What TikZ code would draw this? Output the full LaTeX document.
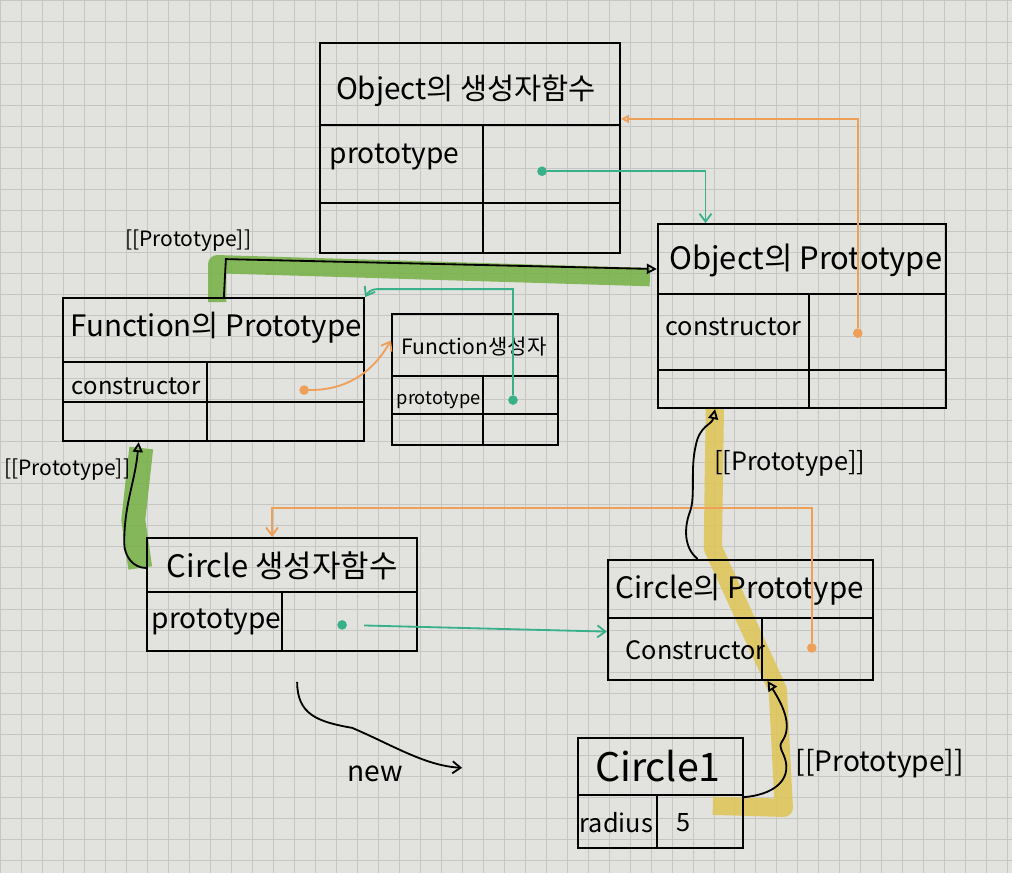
\documentclass[tikz,border=0pt]{standalone}
\usepackage{fontspec}
\setmainfont{Noto Sans CJK KR}
\usetikzlibrary{fit,arrows.meta}
\definecolor{paper}{RGB}{226,226,223}
\definecolor{gridline}{RGB}{198,198,196}
\definecolor{linkteal}{RGB}{56,176,138}
\definecolor{linkorange}{RGB}{238,160,88}
\definecolor{markgreen}{RGB}{116,176,66}
\definecolor{markyellow}{RGB}{222,196,84}

\begin{document}
\begin{tikzpicture}[
  x = 0.025cm, y = -0.025cm,
  every node/.style = {inner sep=1pt},
  box/.style        = {draw, line width=1.5pt, inner sep=0pt, fit={#1}},
  rule/.style       = {line width=1.4pt},
  title/.style      = {font=\fontsize{#1}{#1}\selectfont},
  field/.style      = {anchor=west, font=\fontsize{#1}{#1}\selectfont},
  tag/.style        = {font=\fontsize{#1}{#1}\selectfont},
  tdot/.style       = {circle, fill=linkteal, inner sep=0pt, minimum size=2.4mm},
  odot/.style       = {circle, fill=linkorange, inner sep=0pt, minimum size=2.4mm},
  tealink/.style    = {draw=linkteal, line width=1.3pt, -{Straight Barb[length=2mm, width=3mm]}},
  orangelink/.style = {draw=linkorange, line width=1.3pt, -{Straight Barb[length=2mm, width=3mm]}},
  protolink/.style  = {line width=1.3pt, -{Triangle[open, length=2.5mm, width=2.5mm]}},
  newlink/.style    = {line width=1.3pt, -{Straight Barb[length=2mm, width=3mm]}},
  marker/.style     = {draw=#1, line width=13pt, opacity=0.85, line join=round},
]

% paper
\fill[paper] (0,0) rectangle (1012,873);
\foreach \g in {0,21,...,1008}
  \draw[gridline, line width=0.5pt] (\g,0) -- (\g,873);
\foreach \g in {0,21,...,861}
  \draw[gridline, line width=0.5pt] (0,\g) -- (1012,\g);

% highlighter under the [[Prototype]] links
\draw[marker=markgreen] (217,302) -- (217,264) -- (650,277);
\draw[marker=markgreen, line width=17pt] (141,448) -- (133,520) -- (140,568);
\draw[marker=markyellow] (715,408) -- (713,548) -- (778,690) -- (784,808) -- (713,806);

% boxes
\node[box={(320,43) (620,253)}]  (objCtor)   {};
\node[box={(658,224) (946,408)}] (objProto)  {};
\node[box={(63,298) (364,441)}]  (funcProto) {};
\node[box={(392,314) (558,445)}] (funcCtor)  {};
\node[box={(147,538) (417,651)}] (circCtor)  {};
\node[box={(608,560) (873,680)}] (circProto) {};
\node[box={(578,738) (743,848)}] (circle1)   {};

\foreach \xa/\xb/\yy in {320/620/125, 320/620/203, 658/946/294, 658/946/370,
                         63/364/362, 63/364/402, 392/558/376, 392/558/414,
                         147/417/592, 608/873/618, 578/743/795}
  \draw[rule] (\xa,\yy) -- (\xb,\yy);
\foreach \xx/\ya/\yb in {483/125/253, 809/294/408, 207/362/441, 483/376/445,
                         282/592/651, 762/618/680, 657/795/848}
  \draw[rule] (\xx,\ya) -- (\xx,\yb);

% texts
\node[title=21] (objCtorT)   at (466,90)  {Object의 생성자함수};
\node[field=20] (objCtorF)   at (328,157) {prototype};
\node[title=22] (objProtoT)  at (806,260) {Object의 Prototype};
\node[field=18] (objProtoF)  at (664,327) {constructor};
\node[title=21] (funcProtoT) at (216,328) {Function의 Prototype};
\node[field=17] (funcProtoF) at (70,386)  {constructor};
\node[title=15] (funcCtorT)  at (474,346) {Function생성자};
\node[field=13] (funcCtorF)  at (395,400) {prototype};
\node[title=22] (circCtorT)  at (282,566) {Circle 생성자함수};
\node[field=20] (circCtorF)  at (150,622) {prototype};
\node[title=21] (circProtoT) at (740,590) {Circle의 Prototype};
\node[field=18] (circProtoF) at (624,650) {Constructor};
\node[title=28] (circle1T)   at (658,766) {Circle1};
\node[field=18] (circle1F)   at (578,823) {radius};
\node[tag=18]   (circle1V)   at (684,823) {5};

% link labels
\node[tag=15] (lblFunc) at (188,240) {[[Prototype]]};
\node[tag=15] (lblCirc) at (67,470)  {[[Prototype]]};
\node[tag=18] (lblObj)  at (790,463) {[[Prototype]]};
\node[tag=20] (lblC1)   at (880,764) {[[Prototype]]};
\node[tag=20] (newTag)  at (375,774) {new};

% dots
\node[tdot] (objCtorD)   at (542,171) {};
\node[odot] (objProtoD)  at (858,333) {};
\node[odot] (funcProtoD) at (304,390) {};
\node[tdot] (funcCtorD)  at (513,400) {};
\node[tdot] (circCtorD)  at (342,625) {};
\node[odot] (circProtoD) at (812,648) {};

% prototype / constructor links
\draw[tealink] (objCtorD) -| (objProto.136);
\draw[orangelink, -{Triangle[open, length=2mm, width=2mm]}] (objProtoD) |- (objCtor.11);
\draw[tealink] (funcCtorD) |- ([shift={(12,-8)}]funcProto.north east)
  to[out=180, in=60] (funcProto.north east);
\draw[orangelink] (funcProtoD) to[out=0, in=-120] (funcCtor.155);
\draw[tealink, shorten <=12pt] (circCtorD) -- (circProto.185);
\draw[orangelink] (circProtoD) -- ++(0,-140) -| (circCtor.100);

% [[Prototype]] links
\draw[protolink] (funcProto.82) -- ++(2,-38) -- (objProto.162);
\draw[protolink] (circCtor.169) to[out=180, in=-90] ++(-22,-25)
  to[out=90, in=-95] (funcProto.224);
\draw[protolink] (circProto.125) .. controls (684,548) and (684,528) .. (690,512)
  .. controls (696,496) and (690,470) .. (696,445)
  .. controls (700,425) and (712,425) .. (objProto.227);
\draw[protolink] (circle1.357) .. controls (772,795) and (790,782) .. (786,762)
  .. controls (784,752) and (778,748) .. (782,742)
  .. controls (792,728) and (786,710) .. (circProto.294);

% new
\coordinate (newFrom) at (297,682);
\coordinate (newTo)   at (462,768);
\draw[newlink] (newFrom) .. controls (297,715) and (318,722) .. (352,728)
  .. controls (392,745) and (425,766) .. (newTo);

\end{tikzpicture}
\end{document}
